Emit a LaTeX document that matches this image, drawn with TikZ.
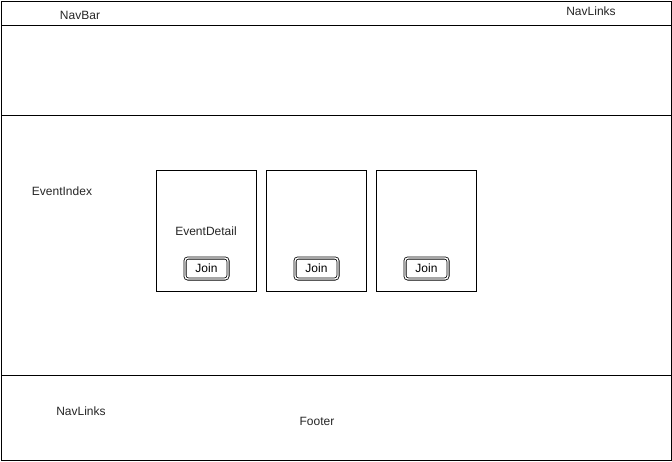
\documentclass[tikz,border=0pt]{standalone}
\usepackage{fontspec}
\setmainfont{Liberation Sans}
\begin{document}
\begin{tikzpicture}[x=1pt,y=-1pt,
  panel/.style={draw=black,line width=1pt,fill=none},
  lbl/.style={font=\fontsize{12}{14}\selectfont,inner sep=0pt,text=black!85},
  card/.style={draw=black,line width=0.9pt,anchor=north west,minimum width=100pt,minimum height=121pt,inner sep=0pt},
  joinbtn/.style={draw=black,double=white,double distance=1.4pt,line width=0.8pt,rounded corners=3pt,minimum width=43pt,minimum height=21pt,inner sep=0pt,font=\fontsize{12}{14}\selectfont}
]
\useasboundingbox (0,0) rectangle (672,461);
\fill[white] (0,0) rectangle (672,461);
% panels
\draw[panel] (1,1) rectangle (671,25.5);
\draw[panel] (1,25.5) rectangle (671,115.5);
\draw[panel] (1,115.5) rectangle (671,375.5);
\draw[panel] (1,375.5) rectangle (671,460);
% labels
\node[lbl] (navbar) at (80,15) {NavBar};
\node[lbl] (navlinksTop) at (591,11) {NavLinks};
\node[lbl] (eventindex) at (62,191) {EventIndex};
\node[lbl] (navlinksBot) at (81,411) {NavLinks};
\node[lbl] (footer) at (317,421) {Footer};
% cards
\node[card] (card1) at (156,170) {};
\node[card] (card2) at (266,170) {};
\node[card] (card3) at (376,170) {};
\node[lbl] (eventdetail) at (206,231) {EventDetail};
\node[joinbtn] (join1) at (206.5,268.5) {Join};
\node[joinbtn] (join2) at (316.5,268.5) {Join};
\node[joinbtn] (join3) at (426.5,268.5) {Join};
\end{tikzpicture}
\end{document}
